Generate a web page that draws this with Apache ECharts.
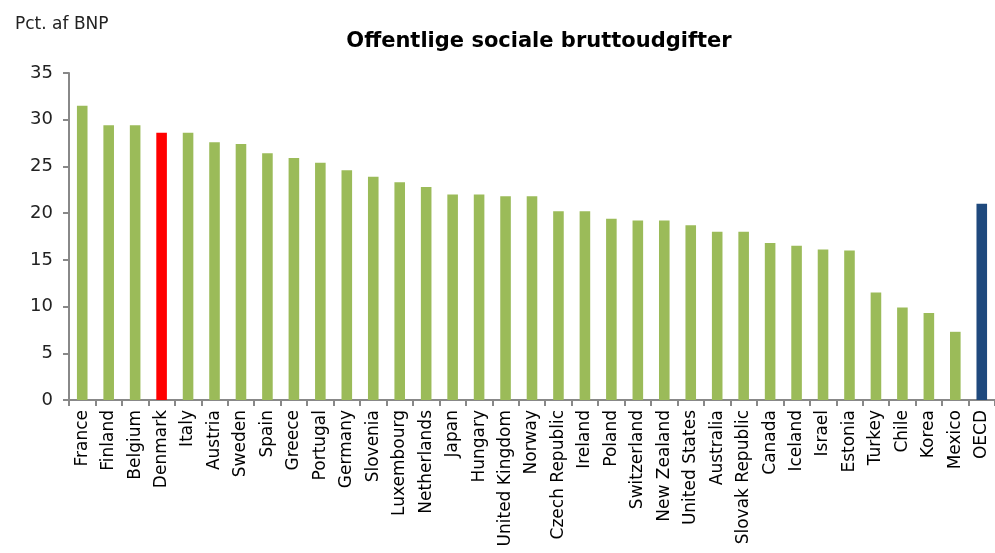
<!DOCTYPE html>
<html>
<head>
<meta charset="utf-8">
<script src="https://cdn.jsdelivr.net/npm/echarts@6/dist/echarts.min.js"></script>
<style>
  html, body { margin: 0; padding: 0; background: #fff; }
  #main { width: 995px; height: 553px; }
</style>
</head>
<body>
<div id="main"></div>
<script>
var countries = ['France', 'Finland', 'Belgium', 'Denmark', 'Italy', 'Austria', 'Sweden', 'Spain',
  'Greece', 'Portugal', 'Germany', 'Slovenia', 'Luxembourg', 'Netherlands', 'Japan', 'Hungary',
  'United Kingdom', 'Norway', 'Czech Republic', 'Ireland', 'Poland', 'Switzerland', 'New Zealand',
  'United States', 'Australia', 'Slovak Republic', 'Canada', 'Iceland', 'Israel', 'Estonia',
  'Turkey', 'Chile', 'Korea', 'Mexico', 'OECD'];
var spending = [31.5, 29.4, 29.4, 28.6, 28.6, 27.6, 27.4, 26.4, 25.9, 25.4, 24.6, 23.9, 23.3, 22.8,
  22.0, 22.0, 21.8, 21.8, 20.2, 20.2, 19.4, 19.2, 19.2, 18.7, 18.0, 18.0, 16.8, 16.5, 16.1, 16.0,
  11.5, 9.9, 9.3, 7.3, 21.0];
var yTicks = [0, 5, 10, 15, 20, 25, 30, 35];

var green = '#9bbb59';
var highlight = { 'Denmark': '#ff0000', 'OECD': '#1f497d' };

var dom = document.getElementById('main');
var myChart = echarts.init(dom);

var barData = [];
for (var i = 0; i < countries.length; i++) {
  barData.push({
    value: spending[i],
    itemStyle: { color: highlight[countries[i]] || green }
  });
}

var option = {
  animation: false,
  backgroundColor: '#fff',
  textStyle: { fontFamily: 'DejaVu Sans' },
  title: [
    {
      text: 'Offentlige sociale bruttoudgifter',
      left: 534,
      top: 26,
      textAlign: 'center',
      textStyle: { fontFamily: 'DejaVu Sans', fontWeight: 'bold', fontSize: 21, color: '#000' }
    },
    {
      text: 'Pct. af BNP',
      left: 10,
      top: 11,
      textStyle: { fontFamily: 'DejaVu Sans', fontWeight: 'normal', fontSize: 17, color: '#222' }
    }
  ],
  grid: { left: 69, top: 73, width: 933, height: 327 },
  xAxis: {
    type: 'category',
    data: countries,
    axisLine: { lineStyle: { color: '#888', width: 2 } },
    axisTick: { show: true, length: 6, alignWithLabel: false, lineStyle: { color: '#888', width: 2 } },
    axisLabel: { rotate: 90, interval: 0, margin: 10, fontSize: 17, color: '#000', fontFamily: 'DejaVu Sans' }
  },
  yAxis: {
    type: 'value',
    min: yTicks[0],
    max: yTicks[yTicks.length - 1],
    interval: 5,
    splitLine: { show: false },
    axisLine: { show: true, lineStyle: { color: '#888', width: 2 } },
    axisTick: { show: true, length: 6, lineStyle: { color: '#888', width: 2 } },
    axisLabel: { margin: 16, fontSize: 18, color: '#222', fontFamily: 'DejaVu Sans' }
  },
  series: [
    {
      name: 'Pct. af BNP',
      type: 'bar',
      barWidth: '40%',
      data: barData
    }
  ]
};

myChart.setOption(option, true);
</script>
</body>
</html>
